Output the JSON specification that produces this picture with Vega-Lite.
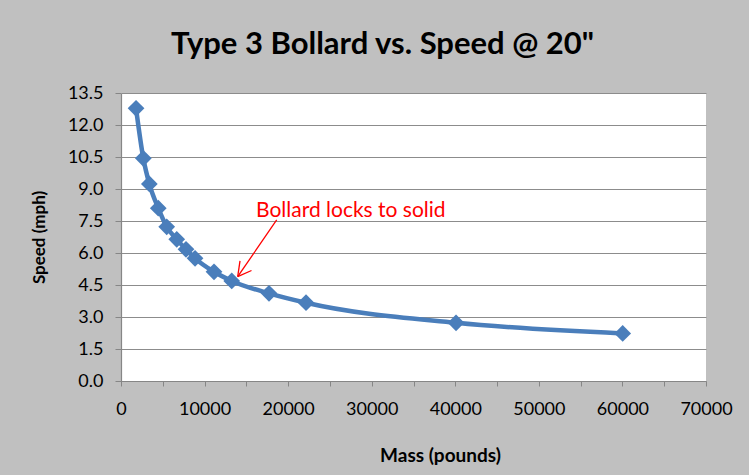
{
  "$schema": "https://vega.github.io/schema/vega-lite/v6.json",
  "width": 585,
  "height": 288,
  "autosize": {"type": "none"},
  "padding": {"left": 121, "top": 93, "right": 43, "bottom": 94},
  "background": "#c0c0c0",
  "title": {
    "text": "Type 3 Bollard vs. Speed @ 20\"",
    "font": "Lato",
    "fontSize": 31,
    "fontWeight": "bold",
    "color": "#000000",
    "anchor": "middle",
    "baseline": "alphabetic",
    "offset": 6,
    "dx": -31,
    "dy": 7
  },
  "config": {
    "view": {"fill": "#ffffff", "stroke": null},
    "axis": {
      "labelFont": "Lato",
      "labelFontSize": 18,
      "labelColor": "#000000",
      "titleFont": "Lato",
      "titleFontWeight": "bold",
      "titleColor": "#000000",
      "domainColor": "#868686",
      "domainWidth": 1.2,
      "tickColor": "#868686",
      "gridColor": "#8c8c8c",
      "gridWidth": 1.2
    }
  },
  "datasets": {
    "curve": [
      {"x": 1800, "y": 12.78},
      {"x": 2670, "y": 10.44},
      {"x": 3390, "y": 9.24},
      {"x": 4460, "y": 8.1},
      {"x": 5470, "y": 7.23},
      {"x": 6670, "y": 6.64},
      {"x": 7780, "y": 6.17},
      {"x": 8860, "y": 5.75},
      {"x": 11130, "y": 5.12},
      {"x": 13250, "y": 4.69},
      {"x": 17710, "y": 4.11},
      {"x": 22140, "y": 3.67},
      {"x": 40090, "y": 2.73},
      {"x": 60030, "y": 2.23}
    ],
    "arrow": [
      {"x": 18630, "y": 7.55, "x2": 13964, "y2": 4.89},
      {"x": 15615, "y": 5.18, "x2": 13964, "y2": 4.89},
      {"x": 14240, "y": 5.63, "x2": 13964, "y2": 4.89}
    ],
    "note": [
      {"x": 16150, "y": 7.7, "label": "Bollard locks to solid"}
    ]
  },
  "encoding": {
    "x": {
      "field": "x", "type": "quantitative",
      "scale": {"domain": [0, 70000], "nice": false, "zero": false},
      "axis": {
        "title": "Mass  (pounds)",
        "titleFontSize": 19,
        "values": [0, 5000, 10000, 15000, 20000, 25000, 30000, 35000, 40000, 45000, 50000, 55000, 60000, 65000, 70000],
        "labelExpr": "datum.value % 10000 === 0 ? format(datum.value, 'd') : ''",
        "grid": false,
        "tickSize": 5,
        "labelPadding": 14,
        "labelFlush": false,
        "labelOverlap": false,
        "titleX": 319,
        "titleY": 74,
        "titleBaseline": "middle",
        "titleAlign": "center"
      }
    },
    "y": {
      "field": "y", "type": "quantitative",
      "scale": {"domain": [0, 13.5], "nice": false, "zero": false},
      "axis": {
        "title": "Speed (mph)",
        "titleFontSize": 17,
        "values": [0, 1.5, 3, 4.5, 6, 7.5, 9, 10.5, 12, 13.5],
        "format": ".1f",
        "tickSize": 6,
        "labelPadding": 12,
        "labelFlush": false,
        "labelOverlap": false,
        "titleAngle": 270,
        "titleX": -82,
        "titleY": 144,
        "titleBaseline": "middle",
        "titleAlign": "center"
      }
    }
  },
  "layer": [
    {
      "data": {"name": "curve"},
      "mark": {"type": "line", "interpolate": "monotone", "color": "#4A7EBB", "strokeWidth": 4.5}
    },
    {
      "data": {"name": "curve"},
      "mark": {"type": "point", "shape": "diamond", "filled": true, "size": 280, "color": "#4A7EBB", "opacity": 1}
    },
    {
      "data": {"name": "arrow"},
      "mark": {"type": "rule", "color": "#ff0000", "strokeWidth": 1.3},
      "encoding": {
        "x2": {"field": "x2"},
        "y2": {"field": "y2"}
      }
    },
    {
      "data": {"name": "note"},
      "mark": {"type": "text", "align": "left", "baseline": "alphabetic", "font": "Lato", "fontSize": 21, "color": "#ff0000"},
      "encoding": {
        "text": {"field": "label"}
      }
    }
  ]
}
